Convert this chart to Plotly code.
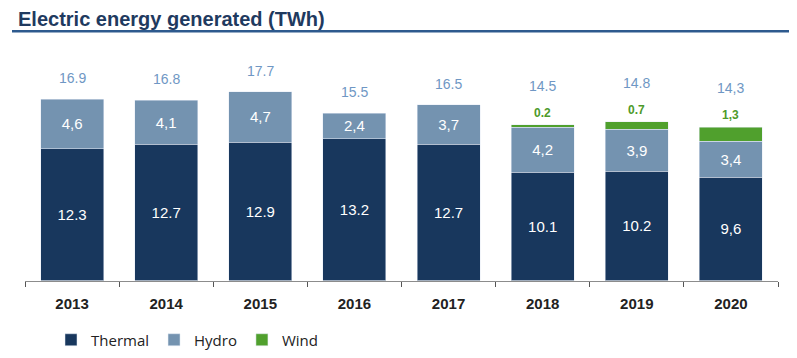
import plotly.graph_objects as go

years = ["2013", "2014", "2015", "2016", "2017", "2018", "2019", "2020"]
thermal = [12.3, 12.7, 12.9, 13.2, 12.7, 10.1, 10.2, 9.6]
hydro = [4.6, 4.1, 4.7, 2.4, 3.7, 4.2, 3.9, 3.4]
wind = [None, None, None, None, None, 0.2, 0.7, 1.3]
thermal_labels = ["12.3", "12.7", "12.9", "13.2", "12.7", "10.1", "10.2", "9,6"]
hydro_labels = ["4,6", "4,1", "4,7", "2,4", "3,7", "4,2", "3,9", "3,4"]
wind_labels = ["", "", "", "", "", "0.2", "0.7", "1,3"]
total_labels = ["16.9", "16.8", "17.7", "15.5", "16.5", "14.5", "14.8", "14,3"]

C_THERMAL = "#18375d"
C_HYDRO = "#7493b0"
C_WIND = "#50a02d"
C_TOTAL = "#6f97c4"

W, H = 789, 350  # page body adds an 8px offset

fig = go.Figure()
fig.add_bar(x=years, y=thermal, name="Thermal", marker_color=C_THERMAL,
            text=thermal_labels, texttemplate="%{text}", textposition="inside",
            insidetextanchor="middle", textangle=0,
            insidetextfont=dict(color="white", size=15, family="Liberation Sans"))
fig.add_bar(x=years, y=hydro, name="Hydro", marker_color=C_HYDRO,
            text=hydro_labels, texttemplate="%{text}", textposition="inside",
            insidetextanchor="middle", textangle=0,
            insidetextfont=dict(color="white", size=15, family="Liberation Sans"))
fig.add_bar(x=years, y=wind, name="Wind", marker_color=C_WIND,
            textposition="none")

for i, yr in enumerate(years):
    top = thermal[i] + hydro[i] + (wind[i] or 0)
    if wind[i]:
        fig.add_annotation(x=i, y=top, text="<b>%s</b>" % wind_labels[i], showarrow=False,
                           yanchor="middle", yshift=12,
                           font=dict(color="#4d9a2a", size=12, family="Liberation Sans"))
        fig.add_annotation(x=i, y=top, text=total_labels[i], showarrow=False,
                           yanchor="middle", yshift=39,
                           font=dict(color=C_TOTAL, size=14, family="Liberation Sans"))
    else:
        fig.add_annotation(x=i, y=top, text=total_labels[i], showarrow=False,
                           yanchor="middle", yshift=21,
                           font=dict(color=C_TOTAL, size=14, family="Liberation Sans"))

fig.update_layout(
    width=W, height=H,
    margin=dict(l=17, r=19, t=52, b=76),
    barmode="stack", bargap=0.33,
    plot_bgcolor="white", paper_bgcolor="white",
    font=dict(family="Liberation Sans", color="#222222"),
    title=dict(text="<b>Electric energy generated (TWh)</b>", x=10/W, xanchor="left",
               xref="container", y=1 - 4/H, yanchor="top", yref="container",
               pad=dict(t=0, b=0, l=0, r=0),
               font=dict(size=20, color="#1f3a5f", family="Liberation Sans")),
    showlegend=True,
    legend=dict(orientation="h", xref="container", yref="container",
                x=43/W, y=1 - 332/H, xanchor="left", yanchor="middle",
                font=dict(size=15, color="#222222", family="Open Sans"),
                itemwidth=30, traceorder="normal"),
    shapes=[dict(type="line", xref="paper", yref="paper", x0=-13/753, x1=1.03,
                 y0=1 + 29/222, y1=1 + 29/222, line=dict(color="#2e5a8e", width=2.5))],
)
fig.update_xaxes(type="category", showline=True, linecolor="#8c8c8c", linewidth=1,
                 ticks="outside", tickson="boundaries", ticklen=5, tickcolor="#555555",
                 ticklabelstandoff=9,
                 tickfont=dict(size=15, color="#222222", family="Liberation Sans"),
                 tickprefix="<b>", ticksuffix="</b>", showgrid=False)
fig.update_yaxes(range=[0, 20.55], visible=False, showgrid=False)

fig.write_html("out.html")
